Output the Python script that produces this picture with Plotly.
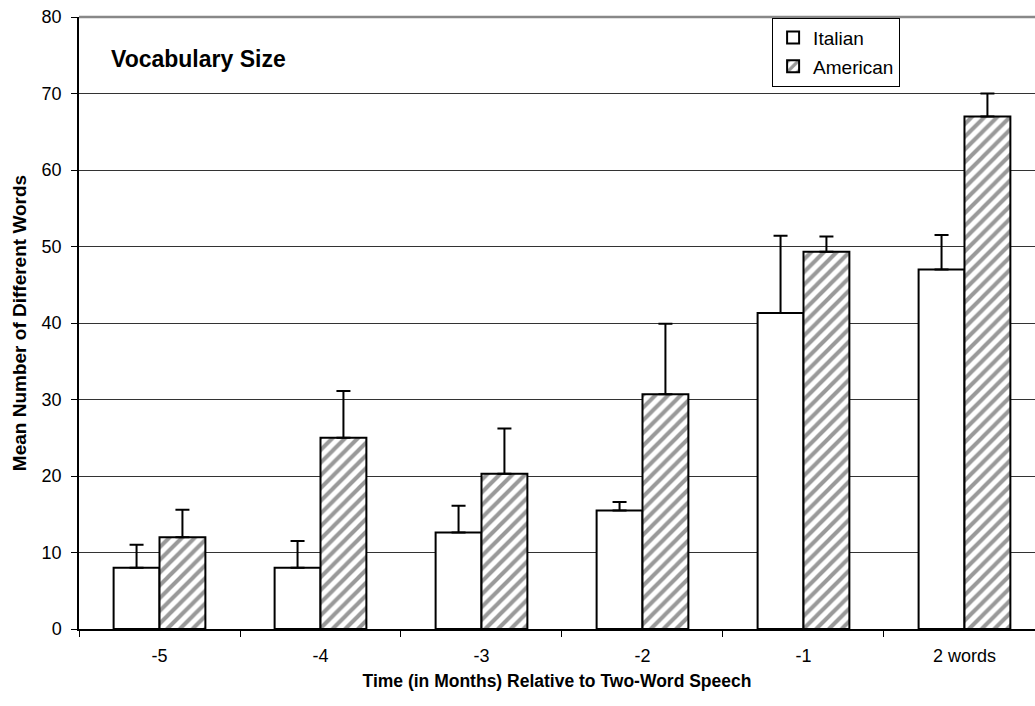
import plotly.graph_objects as go

# Months relative to the onset of two-word speech
categories = ["-5", "-4", "-3", "-2", "-1", "2 words"]

# Mean number of different words, with the upper error bar extent
italian_mean = [8.0, 8.0, 12.6, 15.5, 41.3, 47.0]
italian_err = [3.0, 3.5, 3.5, 1.1, 10.1, 4.5]
american_mean = [12.0, 25.0, 20.3, 30.7, 49.3, 67.0]
american_err = [3.6, 6.1, 5.9, 9.2, 2.0, 3.0]

FONT = "Liberation Sans, Arial, sans-serif"

fig = go.Figure()

fig.add_trace(go.Bar(
    name="Italian",
    x=categories,
    y=italian_mean,
    marker=dict(color="white", line=dict(color="black", width=2)),
    error_y=dict(type="data", symmetric=False, array=italian_err,
                 arrayminus=[0] * len(italian_err),
                 color="black", thickness=2, width=7),
    legendgroup="a",
))

fig.add_trace(go.Bar(
    name="American",
    x=categories,
    y=american_mean,
    marker=dict(
        color="white",
        line=dict(color="black", width=2),
        pattern=dict(shape="/", fgcolor="#333333", bgcolor="white",
                     size=9, solidity=0.45),
    ),
    error_y=dict(type="data", symmetric=False, array=american_err,
                 arrayminus=[0] * len(american_err),
                 color="black", thickness=2, width=7),
    legendgroup="b",
))

fig.update_layout(
    width=1035,
    height=706,
    margin=dict(l=79, r=0, t=17, b=77),
    paper_bgcolor="white",
    plot_bgcolor="white",
    barmode="group",
    bargap=0.43,
    bargroupgap=0,
    font=dict(family=FONT, size=18, color="black"),
    legend=dict(
        x=0.725, y=0.999, xanchor="left", yanchor="top",
        bgcolor="white", bordercolor="black", borderwidth=1,
        font=dict(family=FONT, size=19, color="black"),
        tracegroupgap=1,
        itemwidth=30,
        entrywidth=140,
    ),
    xaxis=dict(
        type="category",
        range=[-0.5, 5.438],
        tickson="boundaries",
        ticks="outside", ticklen=6, tickcolor="black", tickwidth=1,
        showline=True, linecolor="black", linewidth=1.5,
        showgrid=False,
        tickfont=dict(family=FONT, size=18),
        ticklabelstandoff=10,
        title=dict(text="<b>Time (in Months) Relative to Two-Word Speech</b>",
                   font=dict(family=FONT, size=17.5), standoff=9),
    ),
    yaxis=dict(
        range=[0, 80],
        dtick=10,
        ticks="outside", ticklen=6, tickcolor="black", tickwidth=1,
        showline=True, linecolor="black", linewidth=1.5,
        showgrid=True, gridcolor="#333333", gridwidth=1,
        zeroline=False,
        tickfont=dict(family=FONT, size=18),
        ticklabelstandoff=6,
        title=dict(text="<b>Mean Number of Different Words</b>",
                   font=dict(family=FONT, size=19), standoff=10),
    ),
    shapes=[
        # grey upper border of the plot area
        dict(type="line", xref="paper", yref="paper", x0=0, x1=1, y0=1, y1=1,
             line=dict(color="#888888", width=2.5)),
    ],
    annotations=[
        dict(text="<b>Vocabulary Size</b>", xref="paper", yref="paper",
             x=0.031, y=0.931, xanchor="left", yanchor="middle",
             showarrow=False, font=dict(family=FONT, size=23, color="black")),
    ],
)

fig.write_html("out.html")
